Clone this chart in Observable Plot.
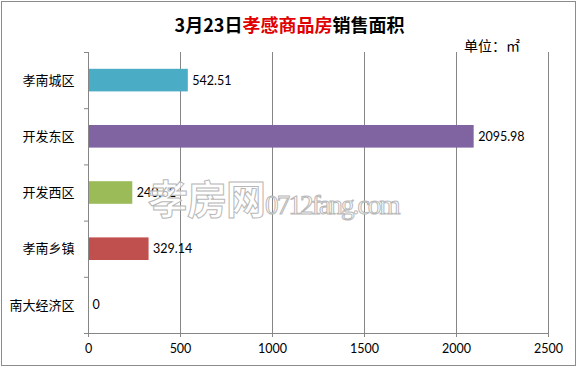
<!DOCTYPE html>
<html>
<head>
<meta charset="utf-8">
<script src="https://cdn.jsdelivr.net/npm/d3@7"></script>
<script src="https://cdn.jsdelivr.net/npm/@observablehq/plot@0.6"></script>
<style>
  html, body { margin: 0; padding: 0; background: #fff; }
  #wrap { position: relative; width: 579px; height: 369px; overflow: hidden; font-family: "Noto Sans CJK SC", "Lato", sans-serif; }
  #border { position: absolute; left: 1px; top: 1px; width: 575px; height: 365px; border: 1px solid #8c8c8c; box-sizing: border-box; pointer-events: none; }
  #title { position: absolute; left: 0; width: 579px; top: 10px; text-align: center; font-size: 18px; font-weight: bold; line-height: 28px; color: #000; }
  #title .red { color: #e00000; }
  #unit { position: absolute; left: 464px; top: 36px; font-size: 14px; line-height: 18px; color: #000; }
  #watermark { position: absolute; left: 148px; top: 168px; white-space: nowrap; color: rgba(255,255,255,0.7); -webkit-text-stroke: 1px #b8b8b8; pointer-events: none; }
  #watermark .big { font-size: 40px; font-weight: bold; font-family: "Noto Sans CJK SC", sans-serif; letter-spacing: -1px; }
  #watermark .small { font-size: 27px; font-family: "Liberation Serif", serif; letter-spacing: -1.8px; }
  svg { position: absolute; left: 0; top: 0; }
</style>
</head>
<body>
<div id="wrap">
  <div id="chart"></div>
  <div id="title"></div>
  <div id="unit"></div>
  <div id="watermark"><span class="big">孝房网</span><span class="small">0712fang.com</span></div>
  <div id="border"></div>
</div>
<script>
const titleParts = ["3月23日", "孝感商品房", "销售面积"];
const unitLabel = "单位：㎡";
const categories = ["孝南城区", "开发东区", "开发西区", "孝南乡镇", "南大经济区"];
const values = [542.51, 2095.98, 240.62, 329.14, 0];
const colors = ["#4BACC6", "#8064A2", "#9BBB59", "#C0504D", "#F79646"];
const xTicks = [0, 500, 1000, 1500, 2000, 2500];

document.getElementById("title").innerHTML =
  titleParts[0] + '<span class="red">' + titleParts[1] + '</span>' + titleParts[2];
document.getElementById("unit").textContent = unitLabel;

const data = categories.map((c, i) => ({category: c, index: i, value: values[i], color: colors[i]}));
const bandEdges = d3.range(categories.length + 1);
const bandCenters = categories.map((c, i) => i + 0.5);

const chart = Plot.plot({
  width: 579,
  height: 369,
  marginTop: 52,
  marginBottom: 36,
  marginLeft: 88,
  marginRight: 31,
  style: {fontFamily: "Lato, 'Noto Sans CJK SC', sans-serif", fontSize: "12px", background: "transparent", color: "#000"},
  x: {domain: [0, 2500]},
  y: {domain: [0, categories.length], reverse: true},
  marks: [
    Plot.gridX(xTicks.slice(1), {stroke: "#868686", strokeOpacity: 1}),
    Plot.axisX(xTicks, {tickSize: 4, tickPadding: 7, label: null, stroke: "#868686", fill: "#000", fontSize: 12.5, tickFormat: d => String(d)}),
    Plot.axisY(bandEdges, {tickSize: 4, tickFormat: () => "", label: null, stroke: "#868686"}),
    Plot.axisY(bandCenters, {tickSize: 0, tickPadding: 14, label: null, fill: "#000", fontSize: 13,
      fontFamily: "'Noto Sans CJK SC', sans-serif",
      tickFormat: v => categories[Math.floor(v)]}),
    Plot.rect(data, {x1: 0, x2: "value", y1: "index", y2: d => d.index + 1, fill: "color", insetTop: 16.8, insetBottom: 16.8}),
    Plot.ruleX([0], {stroke: "#868686"}),
    Plot.ruleY([categories.length], {stroke: "#868686"}),
    Plot.text(data, {x: "value", y: d => d.index + 0.5, text: d => String(d.value), textAnchor: "start", dx: 4, fontSize: 12.5, fill: "#000"})
  ]
});
document.getElementById("chart").appendChild(chart);
</script>
</body>
</html>
